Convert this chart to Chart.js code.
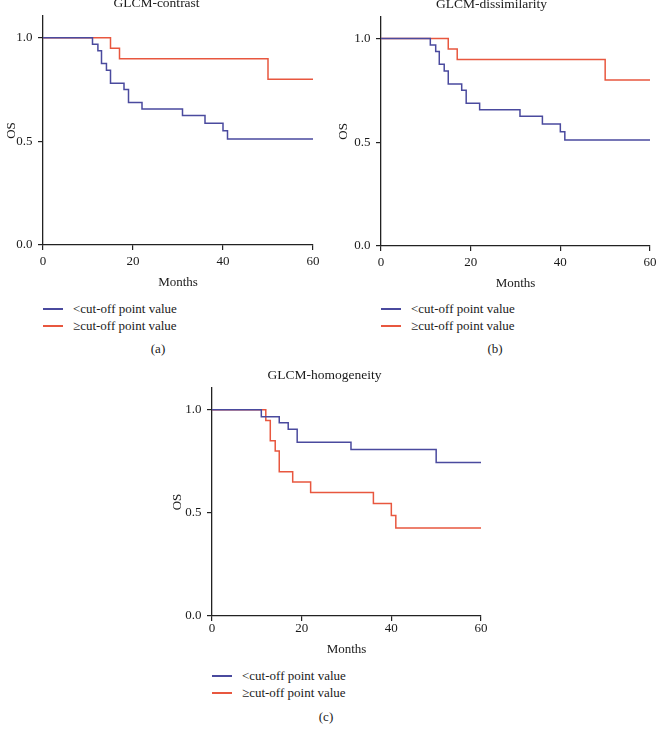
<!DOCTYPE html>
<html>
<head>
<meta charset="utf-8">
<script src="https://cdn.jsdelivr.net/npm/chart.js@4/dist/chart.umd.min.js"></script>
<style>
  html, body { margin: 0; padding: 0; background: #fff; overflow: hidden; }
  body { width: 656px; height: 737px; position: relative; font-family: "Liberation Serif", serif; color: #1a1a1a; }
  canvas { position: absolute; }
  .legend { position: absolute; font-size: 13px; line-height: 17px; }
  .legend div { position: relative; white-space: nowrap; }
  .legend span.swatch { position: absolute; left: 0; top: 8px; width: 20px; height: 1.5px; }
  .legend span.txt { position: absolute; left: 30px; top: 0; }
  .caption { position: absolute; font-size: 13px; width: 40px; text-align: center; }
</style>
</head>
<body>

<canvas id="plotA" width="330" height="295" style="left:0px;top:-5px"></canvas>
<canvas id="plotB" width="323" height="295" style="left:333px;top:-4px"></canvas>
<canvas id="plotC" width="330" height="290" style="left:168px;top:367px"></canvas>

<div class="legend" id="legendA" style="left:43px;top:300px"></div>
<div class="legend" id="legendB" style="left:381px;top:300px"></div>
<div class="legend" id="legendC" style="left:212px;top:667px"></div>

<div class="caption" style="left:138px;top:341px">(a)</div>
<div class="caption" style="left:475px;top:341px">(b)</div>
<div class="caption" style="left:306px;top:709px">(c)</div>

<script>
/* DATA */
const seriesNames = ["<cut-off point value", "\u2265cut-off point value"]
const seriesColors = ["#4a4a9e", "#e8573f"]

const xTicks = [0, 20, 40, 60]
const yTicks = [0, 0.5, 1.0]

// GLCM-contrast and GLCM-dissimilarity (same curves)
const monthsLowAB = [0, 11, 12.2, 13, 14.1, 15, 18, 19, 22, 31, 36, 40, 41, 60]
const osLowAB = [1.0, 0.969, 0.937, 0.876, 0.843, 0.781, 0.75, 0.688, 0.656, 0.625, 0.588, 0.551, 0.511, 0.511]
const monthsHighAB = [0, 15, 17, 50, 60]
const osHighAB = [1.0, 0.949, 0.899, 0.8, 0.8]

// GLCM-homogeneity
const monthsLowC = [0, 11, 15, 17, 19, 31, 50, 60]
const osLowC = [1.0, 0.966, 0.937, 0.905, 0.842, 0.807, 0.744, 0.744]
const monthsHighC = [0, 12, 13, 14.1, 15, 18, 22, 36, 40, 41, 60]
const osHighC = [1.0, 0.947, 0.849, 0.8, 0.699, 0.65, 0.598, 0.545, 0.487, 0.426, 0.426]

const FONT = "'Liberation Serif', 'Times New Roman', serif"
const INK = "#1a1a1a"

function toPoints(xs, ys) {
    return xs.map((x, i) => ({ x: x, y: ys[i] }))
}

function crearKM(id, titulo, low, high, caja) {
    const ctx = document.getElementById(id).getContext("2d")
    return new Chart(ctx, {
        type: "line",
        data: {
            datasets: [
                {
                    label: seriesNames[0],
                    data: toPoints(low[0], low[1]),
                    borderColor: seriesColors[0],
                    borderWidth: 1.5,
                    stepped: "before",
                    pointRadius: 0,
                    fill: false
                },
                {
                    label: seriesNames[1],
                    data: toPoints(high[0], high[1]),
                    borderColor: seriesColors[1],
                    borderWidth: 1.5,
                    stepped: "before",
                    pointRadius: 0,
                    fill: false
                }
            ]
        },
        options: {
            responsive: false,
            animation: false,
            events: [],
            layout: { padding: { left: 0, right: caja.right, top: 0, bottom: 0 } },
            plugins: {
                legend: { display: false },
                tooltip: { enabled: false },
                title: {
                    display: true,
                    text: titulo,
                    color: INK,
                    font: { family: FONT, size: 13.5, weight: "normal" },
                    padding: { top: 0, bottom: caja.titlePad }
                }
            },
            scales: {
                x: {
                    type: "linear",
                    min: 0,
                    max: 60,
                    afterBuildTicks: s => { s.ticks = xTicks.map(v => ({ value: v })) },
                    afterFit: s => { s.height = caja.xh; s.paddingLeft = 0; s.paddingRight = 0 },
                    ticks: { color: INK, font: { family: FONT, size: 13 }, padding: caja.xPad, maxRotation: 0 },
                    grid: { drawOnChartArea: false, drawTicks: true, tickLength: 5, color: "#222", lineWidth: 1.2 },
                    border: { display: true, color: "#222", width: 1.3 },
                    title: {
                        display: true,
                        text: "Months",
                        color: INK,
                        font: { family: FONT, size: 13 },
                        padding: 0
                    }
                },
                y: {
                    type: "linear",
                    min: 0,
                    max: 1.105,
                    afterBuildTicks: s => { s.ticks = yTicks.map(v => ({ value: v })) },
                    afterFit: s => { s.width = caja.yw; s.paddingTop = 0; s.paddingBottom = 0 },
                    ticks: {
                        color: INK,
                        font: { family: FONT, size: 13 },
                        padding: 5.5,
                        callback: v => Number(v).toFixed(1)
                    },
                    grid: { drawOnChartArea: false, drawTicks: true, tickLength: 5, color: "#222", lineWidth: 1.2 },
                    border: { display: true, color: "#222", width: 1.3 },
                    title: {
                        display: true,
                        text: "OS",
                        color: INK,
                        font: { family: FONT, size: 13 },
                        padding: { top: caja.osPad, bottom: 0 }
                    }
                }
            }
        }
    })
}

function crearLeyenda(id) {
    const div = document.getElementById(id)
    for (let i = 0; i < seriesNames.length; i++) {
        const fila = document.createElement("div")
        fila.style.height = (i == 0 ? 17 : 17) + "px"
        const linea = document.createElement("span")
        linea.className = "swatch"
        linea.style.background = seriesColors[i]
        const txt = document.createElement("span")
        txt.className = "txt"
        txt.textContent = seriesNames[i]
        fila.appendChild(linea)
        fila.appendChild(txt)
        div.appendChild(fila)
    }
}

crearKM("plotA", "GLCM-contrast", [monthsLowAB, osLowAB], [monthsHighAB, osHighAB],
    { right: 17, titlePad: 4.8, xh: 45, yw: 43, osPad: 3.9, xPad: 4 })
crearKM("plotB", "GLCM-dissimilarity", [monthsLowAB, osLowAB], [monthsHighAB, osHighAB],
    { right: 6, titlePad: 4.5, xh: 45, yw: 48, osPad: 2.5, xPad: 4 })
crearKM("plotC", "GLCM-homogeneity", [monthsLowC, osLowC], [monthsHighC, osHighC],
    { right: 17, titlePad: 4.8, xh: 41, yw: 44, osPad: 1.7, xPad: 0 })

crearLeyenda("legendA")
crearLeyenda("legendB")
crearLeyenda("legendC")
</script>
</body>
</html>
